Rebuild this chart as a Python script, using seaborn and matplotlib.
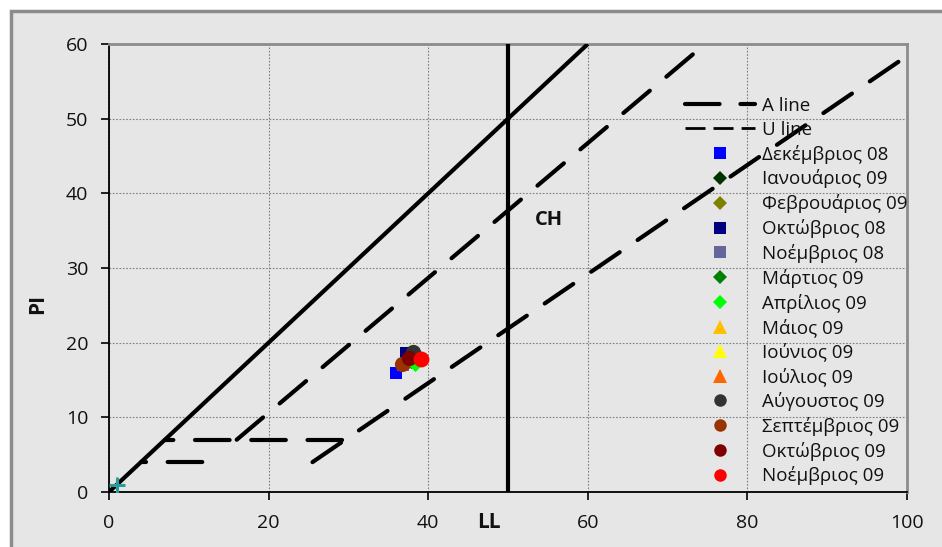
import matplotlib
matplotlib.use("Agg")
import matplotlib.pyplot as plt
from matplotlib.lines import Line2D
from matplotlib.patches import Rectangle
import seaborn as sns
import pandas as pd

# ---------------- data ----------------
months = ["Δεκέμβριος 08", "Ιανουάριος 09", "Φεβρουάριος 09", "Οκτώβριος 08",
          "Νοέμβριος 08", "Μάρτιος 09", "Απρίλιος 09", "Μάιος 09", "Ιούνιος 09",
          "Ιούλιος 09", "Αύγουστος 09", "Σεπτέμβριος 09", "Οκτώβριος 09", "Νοέμβριος 09"]
ll_values = [36.0, 38.2, 37.6, 37.2, 36.9, 37.8, 38.3, 37.7, 37.7, 37.9, 38.1, 36.7, 37.6, 39.1]
pi_values = [15.9, 18.8, 17.6, 18.6, 17.0, 17.5, 17.1, 18.2, 19.0, 18.4, 18.7, 17.1, 17.9, 17.8]
colors = ["#0000ff", "#003300", "#808000", "#000080", "#666699", "#008000", "#00ff00",
          "#ffc000", "#ffff00", "#ff6600", "#333333", "#993300", "#800000", "#ff0000"]
markers = ["s", "D", "D", "s", "s", "D", "D", "^", "^", "^", "o", "o", "o", "o"]
marker_area = [85, 60, 60, 85, 85, 60, 60, 90, 90, 90, 120, 120, 120, 130]

# reference lines
upper_ll = [0, 60]
upper_pi = [0, 60]
ch_ll = [50, 50]
ch_pi = [0, 60]
a_line_ll = [25.5, 100]
a_line_pi = [4, 58.4]
u_line_ll = [16, 74.7]
u_line_pi = [7, 60]
zone7_ll = [7, 29.6]
zone7_pi = [7, 7]
zone4_ll = [4, 12.4]
zone4_pi = [4, 4]
origin_pt = ([1.0], [0.9])

x_ticks = [0, 20, 40, 60, 80, 100]
y_ticks = [0, 10, 20, 30, 40, 50, 60]

# ---------------- style ----------------
sns.set_theme(style="white")
plt.rcParams["font.family"] = ["Open Sans", "DejaVu Sans"]

BG = "#e6e6e6"
TXT = "#111111"
fig = plt.figure(figsize=(9.42, 5.47), dpi=100, facecolor="white")
fig.patches.append(Rectangle((11 / 942, -0.1), 1.2, 1 - 11 / 547 + 0.1,
                             transform=fig.transFigure, facecolor=BG,
                             edgecolor="#8c8c8c", linewidth=2.5, zorder=-10))
ax = fig.add_axes([109 / 942, 1 - 492 / 547, 798 / 942, 448 / 547])
ax.set_facecolor(BG)

ax.set_xlim(0, 100)
ax.set_ylim(0, 60)
ax.set_xticks(x_ticks)
ax.set_yticks(y_ticks)
ax.grid(True, color="#7f7f7f", linestyle=(0, (1.5, 1.5)), linewidth=0.8)
ax.set_axisbelow(True)

# solid lines
ax.plot(upper_ll, upper_pi, color="black", lw=3, solid_capstyle="butt", zorder=3)
ax.plot(ch_ll, ch_pi, color="black", lw=3, solid_capstyle="butt", zorder=3)

DASH = (8.3, 5.2)
dash_kw = dict(color="black", lw=3, dash_capstyle="round", zorder=3)
ax.plot(a_line_ll, a_line_pi, linestyle=(0, DASH), **dash_kw)
ax.plot(u_line_ll, u_line_pi, linestyle=(0, DASH), **dash_kw)
ax.plot(zone7_ll, zone7_pi, linestyle=(6.3, DASH), **dash_kw)
ax.plot(zone4_ll, zone4_pi, linestyle=(7.1, DASH), **dash_kw)

# data points (seaborn)
df = pd.DataFrame({"LL": ll_values, "PI": pi_values, "month": months})
for m, c, mk, s in zip(months, colors, markers, marker_area):
    sns.scatterplot(data=df[df["month"] == m], x="LL", y="PI", color=c,
                    marker=mk, s=s, linewidth=0, ax=ax, zorder=4, legend=False)
ax.plot(*origin_pt, marker="+", color="#2a9a9a", markersize=11, mew=2.2,
        linestyle="none", zorder=5)

ax.text(55.1, 36.4, "CH", fontsize=14.5, fontweight="bold", ha="center", va="center",
        color=TXT)

# axes styling
for side in ["left", "bottom"]:
    ax.spines[side].set_color("black")
    ax.spines[side].set_linewidth(1.3)
for side in ["top", "right"]:
    ax.spines[side].set_color("#8c8c8c")
    ax.spines[side].set_linewidth(2)
ax.tick_params(axis="both", which="major", direction="out", length=6, width=1.2,
               color="black", labelsize=14, labelcolor=TXT)
ax.tick_params(axis="y", pad=9, left=True)
ax.tick_params(axis="x", pad=10, bottom=True)

ax.set_xlabel("LL", fontsize=15, fontweight="bold", color=TXT)
ax.set_ylabel("PI", fontsize=15, fontweight="bold", color=TXT)
ax.xaxis.set_label_coords(0.476, -0.068)
ax.xaxis.label.set_va("center")
ax.yaxis.set_label_coords(-0.09, 0.42)
ax.yaxis.label.set_va("center")

# legend
handles = [Line2D([], [], color="black", lw=3, linestyle=(0, (8.3, 5.0)),
                  dash_capstyle="round"),
           Line2D([], [], color="black", lw=2, linestyle=(0, (7.2, 2.9)))]
labels = ["A line", "U line"]
for m, c, mk in zip(months, colors, markers):
    size = 9 if mk in ("s", "o") else (7.5 if mk == "D" else 10)
    handles.append(Line2D([], [], color=c, marker=mk, markersize=size,
                          markeredgewidth=0, linestyle="none"))
    labels.append(m)
leg = fig.legend(handles, labels, loc="upper left", bbox_to_anchor=(685 / 942, 1 - 97 / 547),
                 frameon=False, fontsize=13.5, handlelength=3.73, handletextpad=0.37,
                 labelspacing=0.31, borderpad=0, borderaxespad=0)
for t in leg.get_texts():
    t.set_color(TXT)

fig.savefig("out.png", dpi=100, facecolor=fig.get_facecolor())
